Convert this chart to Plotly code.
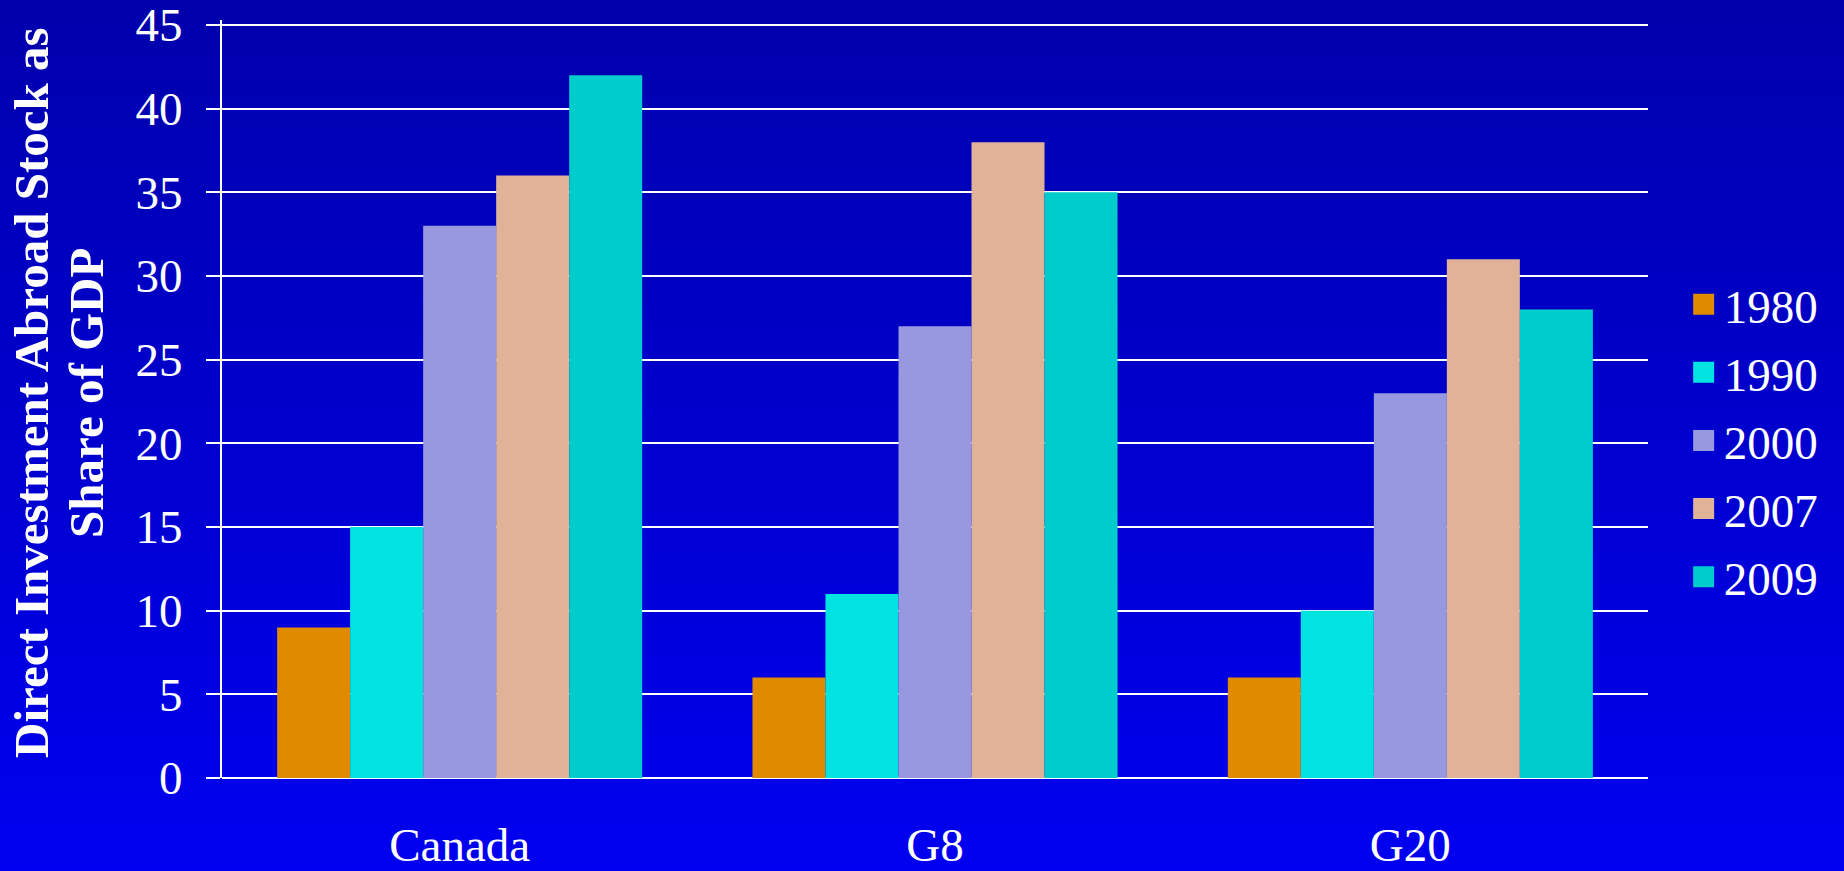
import plotly.graph_objects as go

categories = ["Canada", "G8", "G20"]
years = ["1980", "1990", "2000", "2007", "2009"]
values_1980 = [9, 6, 6]
values_1990 = [15, 11, 10]
values_2000 = [33, 27, 23]
values_2007 = [36, 38, 31]
values_2009 = [42, 35, 28]
series = [values_1980, values_1990, values_2000, values_2007, values_2009]
colors = ["#E08A00", "#00E3E0", "#9898E0", "#E0B398", "#00CCCC"]
title_lines = ["Direct Investment Abroad Stock as", "Share of GDP"]

W, H = 1844, 871
ML, MR, MT, MB = 222, 196, 20, 93
FONT = "Liberation Serif, Times New Roman, serif"

fig = go.Figure()
for name, vals, col in zip(years, series, colors):
    fig.add_trace(go.Bar(x=categories, y=vals, name=name, showlegend=False,
                         marker=dict(color=col, line=dict(width=0))))
# legend-only entries on a hidden overlay axis (bigger square swatches)
for name, col in zip(years, colors):
    fig.add_trace(go.Scatter(x=[None], y=[None], name=name, legendgroup=name, mode="markers",
                             xaxis="x2", yaxis="y2",
                             marker=dict(symbol="square", size=16, color=col,
                                         line=dict(color=col, width=5))))

# gradient background bands
pw, ph = W - ML - MR, H - MT - MB
x0, x1 = -ML / pw - 0.01, 1 + MR / pw + 0.01
y_bot, y_top = -MB / ph - 0.01, 1 + MT / ph + 0.01
n = 60
shapes = []
for i in range(n):
    ya = y_bot + (y_top - y_bot) * i / n
    yb = y_bot + (y_top - y_bot) * (i + 1) / n + 0.002
    t = i / (n - 1)
    b = int(round(240 - (240 - 172) * t))
    shapes.append(dict(type="rect", xref="paper", yref="paper", x0=x0, x1=x1, y0=ya, y1=yb,
                       fillcolor=f"rgb(0,0,{b})", line=dict(width=0), layer="below"))

annotations = []
for line, xs in zip(title_lines, [-190, -135]):
    annotations.append(dict(text=f"<b>{line}</b>", xref="paper", yref="paper", x=0, y=0.508,
                            xshift=xs, xanchor="center", yanchor="middle", textangle=-90,
                            showarrow=False, font=dict(family=FONT, size=49, color="white")))

fig.update_layout(
    width=W, height=H,
    margin=dict(l=ML, r=MR, t=MT, b=MB, autoexpand=False),
    paper_bgcolor="rgb(0,0,205)",
    plot_bgcolor="rgba(0,0,0,0)",
    barmode="group", bargap=0.232, bargroupgap=0,
    shapes=shapes,
    annotations=annotations,
    font=dict(family=FONT, color="white", size=47),
    showlegend=True,
    legend=dict(x=1.025, y=0.445, xanchor="left", yanchor="middle", itemsizing="trace",
                font=dict(family=FONT, size=47, color="white"),
                bgcolor="rgba(0,0,0,0)", tracegroupgap=4),
    xaxis=dict(showgrid=False, showline=False, ticks="", zeroline=False, automargin=False,
               tickfont=dict(size=47), ticklabelstandoff=35),
    xaxis2=dict(overlaying="x", visible=False, range=[0, 1]),
    yaxis2=dict(overlaying="y", visible=False, range=[0, 1]),
    yaxis=dict(range=[0, 45.3], tick0=0, dtick=5, showgrid=True, gridcolor="white", gridwidth=2,
               showline=True, linecolor="white", linewidth=2, automargin=False,
               ticks="outside", ticklen=14, tickwidth=2, tickcolor="white",
               zeroline=True, zerolinecolor="white", zerolinewidth=2,
               tickfont=dict(size=47), ticklabelstandoff=14, ticklabeloverflow="allow"),
)
fig.write_html("out.html")
